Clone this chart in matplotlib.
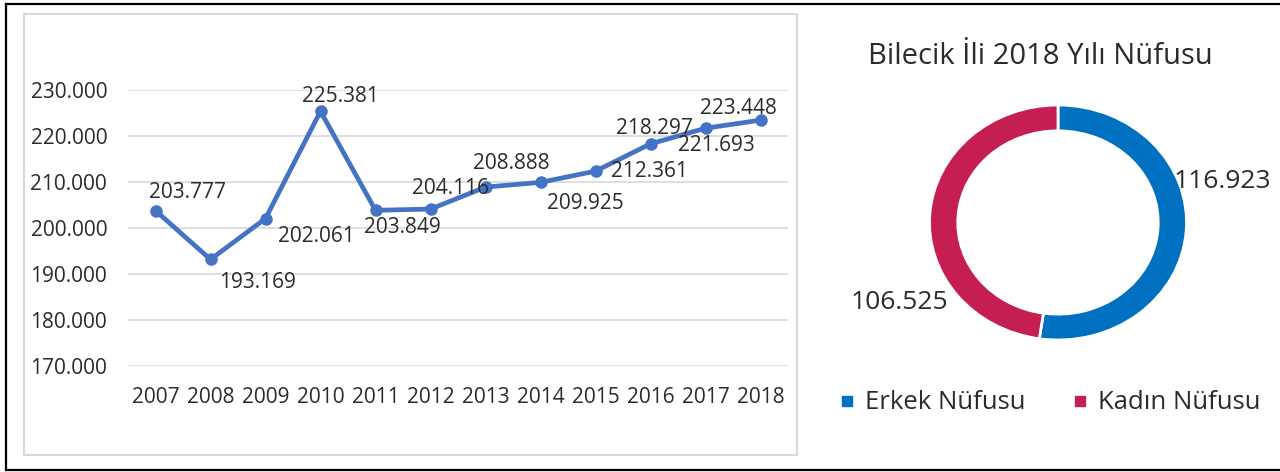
import matplotlib

matplotlib.use("Agg")

import matplotlib.pyplot as plt
from matplotlib.lines import Line2D
from matplotlib.patches import Rectangle

plt.rcParams["font.family"] = ["Open Sans", "DejaVu Sans"]

# Nüfus verisi (Bilecik)
YILLAR = ["2007", "2008", "2009", "2010", "2011", "2012",
          "2013", "2014", "2015", "2016", "2017", "2018"]
NUFUS = [203777, 193169, 202061, 225381, 203849, 204116,
         208888, 209925, 212361, 218297, 221693, 223448]

CINSIYET = ["Erkek Nüfusu", "Kadın Nüfusu"]
CINSIYET_NUFUS = [116923, 106525]

Y_TICKS = [170000, 180000, 190000, 200000, 210000, 220000, 230000]

# veri etiketlerinin noktaya göre kaydırması (piksel, x sağa / y aşağı)
ETIKET_KAYMA = [(32, -18), (47, 23), (51, 18), (20, -15), (27, 17), (20, -21),
                (26, -24), (45, 21), (54, 0), (4, -15), (11, 17), (-22, -12)]

W, H = 1280, 472
MAVI_CIZGI = "#4472C4"
MAVI = "#0070C0"
KIRMIZI = "#C41F50"
YAZI = "#2B2B2B"


def fmt(v):
    return f"{v:,}".replace(",", ".")


def px_ax(x0, y0, x1, y1):
    return [x0 / W, 1 - y1 / H, (x1 - x0) / W, (y1 - y0) / H]


fig = plt.figure(figsize=(W / 100, H / 100), dpi=100)

# çerçeveler
fig.patches.append(Rectangle((24 / W, 1 - 455 / H), 773 / W, 441 / H,
                             transform=fig.transFigure, fill=False,
                             edgecolor="#D9D9D9", lw=1.5))
for xs, ys in [((6, 1280), (4, 4)), ((6, 6), (4, 470)), ((6, 1280), (470, 470))]:
    fig.add_artist(Line2D([x / W for x in xs], [1 - y / H for y in ys],
                          transform=fig.transFigure, color="black", lw=1.6))

# 1. Yıllara göre nüfus
ax = fig.add_axes(px_ax(128, 90, 788, 366))
xs = range(len(YILLAR))
ax.plot(xs, NUFUS, color=MAVI_CIZGI, lw=3.4, marker="o", ms=8, clip_on=False, zorder=3)
for i, v in enumerate(NUFUS):
    dx, dy = ETIKET_KAYMA[i]
    ax.annotate(fmt(v), (i, v), xytext=(dx * 0.72, -dy * 0.72), textcoords="offset points",
                ha="center", va="center", fontsize=15, color=YAZI, zorder=4)
ax.set_xlim(-0.5, len(YILLAR) - 0.5)
ax.set_ylim(Y_TICKS[0], Y_TICKS[-1])
ax.set_xticks(list(xs))
ax.set_xticklabels(YILLAR)
ax.set_yticks(Y_TICKS)
ax.set_yticklabels([fmt(t) for t in Y_TICKS])
ax.tick_params(length=0, labelsize=15, labelcolor=YAZI)
ax.tick_params(axis="y", pad=15)
ax.tick_params(axis="x", pad=15)
ax.grid(axis="y", color="#D9D9D9", lw=1.2)
ax.set_axisbelow(True)
for s in ax.spines.values():
    s.set_visible(False)

# 2. 2018 cinsiyet dağılımı (halka)
ax2 = fig.add_axes(px_ax(929.5, 105, 1186.5, 340))
ax2.pie(CINSIYET_NUFUS, colors=[MAVI, KIRMIZI], startangle=90, counterclock=False,
        radius=1, wedgeprops=dict(width=0.22, edgecolor="white", linewidth=2))
ax2.set_aspect("auto")
ax2.set_xlim(-1, 1)
ax2.set_ylim(-1, 1)
ax2.text(1.276, 0.345, fmt(CINSIYET_NUFUS[0]), ha="center", va="center",
         fontsize=19, color=YAZI, clip_on=False)
ax2.text(-1.237, -0.677, fmt(CINSIYET_NUFUS[1]), ha="center", va="center",
         fontsize=19, color=YAZI, clip_on=False)

fig.text(1040 / W, 1 - 57 / H, "Bilecik İli 2018 Yılı Nüfusu", ha="center", va="center",
         fontsize=21, color=YAZI)

handles = [Line2D([], [], ls="", marker="s", ms=6.5, color=c) for c in (MAVI, KIRMIZI)]
fig.legend(handles, CINSIYET, loc="center", bbox_to_anchor=(1050 / W, 1 - 403 / H),
           ncol=2, frameon=False, fontsize=18.5, labelcolor=YAZI,
           handlelength=0.6, handletextpad=0.4, columnspacing=1.8)

fig.savefig("out.png", dpi=100)
